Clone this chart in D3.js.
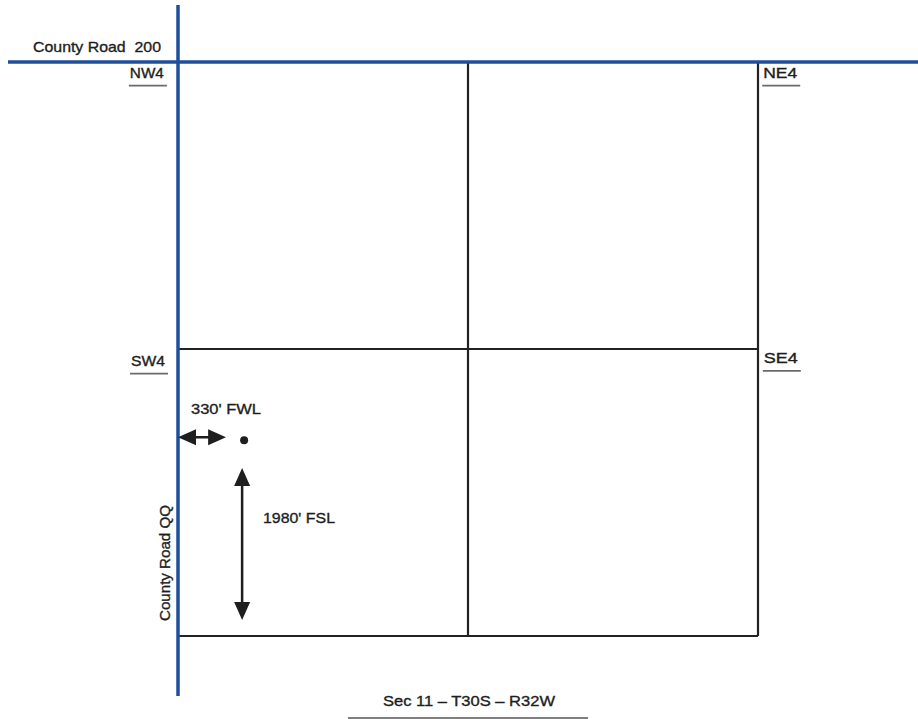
<!DOCTYPE html>
<html><head><meta charset="utf-8">
<script src="https://cdn.jsdelivr.net/npm/d3@7"></script>
<style>html,body{margin:0;padding:0;background:#fff;}svg{display:block;}text{font-family:"Liberation Sans",Arial,sans-serif;fill:#1e1e1e;stroke:#1e1e1e;stroke-width:0.35;}</style>
</head><body>
<script>
// Plat coordinates: fraction of section (0 = west/south edge, 1 = east/north edge)
const quarterNames = ["NW4", "NE4", "SW4", "SE4"];
const quarterLabelPos = [[-0.083, 0.972], [1.009, 0.972], [-0.081, 0.47], [1.01, 0.475]];
const sectionLines = [[0, 0, 1, 0], [1, 0, 1, 1], [0.5, 0, 0.5, 1], [0, 0.5, 1, 0.5]];
const roadNames = ["County Road  200", "County Road QQ"];
const wellFootages = ["330' FWL", "1980' FSL"];
const wellPos = [0.114, 0.341];
const title = "Sec 11 \u2013 T30S \u2013 R32W";

const W = 918, H = 719;
const svg = d3.select("body").append("svg").attr("width", W).attr("height", H);
const x = d3.scaleLinear().domain([0, 1]).range([178, 758]);
const y = d3.scaleLinear().domain([0, 1]).range([636, 62]);

const defs = svg.append("defs");
function marker(id, path) {
  defs.append("marker").attr("id", id).attr("viewBox", "0 0 18 18")
    .attr("refX", 9).attr("refY", 9).attr("markerWidth", 18).attr("markerHeight", 18)
    .attr("markerUnits", "userSpaceOnUse").attr("orient", "auto")
    .append("path").attr("d", path).attr("fill", "#1e1e1e");
}
marker("ah", "M0,1 L18,9 L0,17 Z");
marker("ahs", "M18,1 L0,9 L18,17 Z");

// section lines
svg.append("g").selectAll("line").data(sectionLines).join("line")
  .attr("x1", d => x(d[0])).attr("y1", d => y(d[1]))
  .attr("x2", d => x(d[2])).attr("y2", d => y(d[3]))
  .attr("stroke", "#222").attr("stroke-width", 2.2);

// roads
svg.append("line").attr("x1", 8).attr("x2", W).attr("y1", y(1)).attr("y2", y(1))
  .attr("stroke", "#1f4f9c").attr("stroke-width", 3.5);
svg.append("line").attr("x1", x(0)).attr("x2", x(0)).attr("y1", 5).attr("y2", 696)
  .attr("stroke", "#1f4f9c").attr("stroke-width", 3.5);

svg.append("text").attr("x", 33).attr("y", 52).attr("font-size", 15)
  .attr("textLength", 128).attr("lengthAdjust", "spacingAndGlyphs").attr("xml:space", "preserve")
  .style("white-space", "pre").text(roadNames[0]);
svg.append("text").attr("transform", `translate(170,621) rotate(-90)`).attr("font-size", 15)
  .attr("textLength", 116).attr("lengthAdjust", "spacingAndGlyphs").text(roadNames[1]);

// quarter labels
const ql = svg.append("g").selectAll("g").data(quarterNames).join("g")
  .attr("transform", (d, i) => `translate(${x(quarterLabelPos[i][0])},${y(quarterLabelPos[i][1])})`);
ql.append("text").attr("font-size", 14.5).attr("y", 0)
  .attr("textLength", 34).attr("lengthAdjust", "spacingAndGlyphs").text(d => d);
ql.append("line").attr("x1", -1).attr("x2", 37).attr("y1", 7.5).attr("y2", 7.5)
  .attr("stroke", "#6a6a6a").attr("stroke-width", 1.8);

// well
svg.append("circle").attr("cx", x(wellPos[0])).attr("cy", y(wellPos[1])).attr("r", 4).attr("fill", "#1e1e1e");

// FWL arrow
const hy = y(wellPos[1]) - 3;
svg.append("line").attr("x1", x(0) + 9).attr("x2", x(wellPos[0]) - 27).attr("y1", hy).attr("y2", hy)
  .attr("stroke", "#1e1e1e").attr("stroke-width", 2.5)
  .attr("marker-start", "url(#ahs)").attr("marker-end", "url(#ah)");
svg.append("text").attr("x", 191).attr("y", 414).attr("font-size", 15)
  .attr("textLength", 70).attr("lengthAdjust", "spacingAndGlyphs").text(wellFootages[0]);

// FSL arrow
const vx = x(wellPos[0]) - 2;
svg.append("line").attr("x1", vx).attr("x2", vx).attr("y1", 477).attr("y2", 611)
  .attr("stroke", "#1e1e1e").attr("stroke-width", 2.5)
  .attr("marker-start", "url(#ahs)").attr("marker-end", "url(#ah)");
svg.append("text").attr("x", 263).attr("y", 523).attr("font-size", 15)
  .attr("textLength", 72).attr("lengthAdjust", "spacingAndGlyphs").text(wellFootages[1]);

// title
svg.append("text").attr("x", 383).attr("y", 706).attr("font-size", 15)
  .attr("textLength", 172).attr("lengthAdjust", "spacingAndGlyphs").text(title);
svg.append("line").attr("x1", 348).attr("x2", 588).attr("y1", 718).attr("y2", 718)
  .attr("stroke", "#555").attr("stroke-width", 1.5);
</script>
</body></html>
